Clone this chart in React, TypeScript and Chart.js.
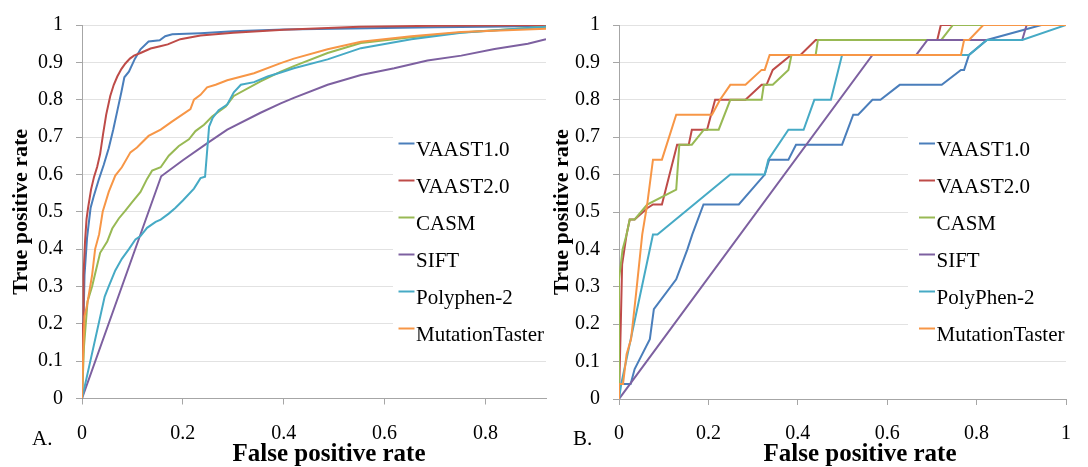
import React, { useEffect, useRef } from "react";
import { Chart, registerables } from "chart.js";

Chart.register(...registerables);

type Pt = [number, number];

const FONT = "'Liberation Serif', 'Times New Roman', Times, serif";

// Series colours: VAAST1.0, VAAST2.0, CASM, SIFT, PolyPhen-2, MutationTaster
const SERIES_COLORS = ["#4A7EBB", "#BE4B48", "#98B954", "#7D60A0", "#46AAC5", "#F79646"];
const LABELS_A = ["VAAST1.0", "VAAST2.0", "CASM", "SIFT", "Polyphen-2", "MutationTaster"];
const LABELS_B = ["VAAST1.0", "VAAST2.0", "CASM", "SIFT", "PolyPhen-2", "MutationTaster"];

const X_TICKS_A = [0, 0.2, 0.4, 0.6, 0.8];
const X_TICKS_B = [0, 0.2, 0.4, 0.6, 0.8, 1];
const Y_TICKS = [0, 0.1, 0.2, 0.3, 0.4, 0.5, 0.6, 0.7, 0.8, 0.9, 1];
const X_MAX_A = 0.92;
const X_MAX_B = 1;

// Panel A ROC curves: [false positive rate, true positive rate]
const A_VAAST1: Pt[] = [
  [0, 0], [0.002, 0.15], [0.005, 0.33], [0.01, 0.43], [0.017, 0.51], [0.023, 0.54],
  [0.033, 0.585], [0.043, 0.625], [0.053, 0.67], [0.062, 0.72], [0.07, 0.77], [0.078, 0.82],
  [0.084, 0.86], [0.093, 0.875], [0.105, 0.91], [0.116, 0.935], [0.132, 0.956], [0.154, 0.959],
  [0.165, 0.97], [0.179, 0.975], [0.235, 0.978], [0.3, 0.983], [0.4, 0.988], [0.5, 0.99],
  [0.6, 0.992], [0.7, 0.994], [0.8, 0.995], [0.92, 0.997],
];
const A_VAAST2: Pt[] = [
  [0, 0], [0.002, 0.2], [0.003, 0.33], [0.006, 0.42], [0.009, 0.48], [0.012, 0.51],
  [0.018, 0.56], [0.024, 0.594], [0.03, 0.62], [0.036, 0.655], [0.042, 0.71], [0.048, 0.76],
  [0.056, 0.81], [0.063, 0.84], [0.07, 0.862], [0.078, 0.882], [0.086, 0.897], [0.095, 0.91],
  [0.103, 0.918], [0.116, 0.925], [0.136, 0.937], [0.155, 0.943], [0.17, 0.948], [0.195, 0.962],
  [0.235, 0.972], [0.3, 0.979], [0.4, 0.987], [0.55, 0.995], [0.7, 0.998], [0.92, 1.0],
];
const A_CASM: Pt[] = [
  [0, 0], [0.004, 0.14], [0.011, 0.26], [0.02, 0.3], [0.026, 0.334], [0.036, 0.39],
  [0.05, 0.42], [0.06, 0.455], [0.073, 0.482], [0.086, 0.503], [0.099, 0.525], [0.116, 0.553],
  [0.129, 0.588], [0.139, 0.61], [0.156, 0.619], [0.172, 0.65], [0.192, 0.676], [0.212, 0.694],
  [0.225, 0.716], [0.242, 0.733], [0.258, 0.755], [0.285, 0.782], [0.301, 0.81], [0.354, 0.849],
  [0.394, 0.875], [0.42, 0.89], [0.487, 0.925], [0.553, 0.952], [0.653, 0.967], [0.752, 0.98],
  [0.92, 0.995],
];
const A_SIFT: Pt[] = [
  [0, 0], [0.157, 0.595], [0.2, 0.638], [0.25, 0.685], [0.288, 0.72], [0.354, 0.765],
  [0.394, 0.79], [0.42, 0.805], [0.487, 0.84], [0.553, 0.866], [0.619, 0.884], [0.685, 0.905],
  [0.752, 0.918], [0.818, 0.936], [0.884, 0.95], [0.92, 0.962],
];
const A_POLYPHEN: Pt[] = [
  [0, 0], [0.045, 0.273], [0.053, 0.3], [0.066, 0.343], [0.079, 0.374], [0.093, 0.4],
  [0.106, 0.426], [0.116, 0.435], [0.129, 0.457], [0.146, 0.473], [0.156, 0.479], [0.172, 0.495],
  [0.185, 0.51], [0.2, 0.53], [0.222, 0.562], [0.235, 0.59], [0.244, 0.594], [0.252, 0.728],
  [0.259, 0.751], [0.271, 0.772], [0.288, 0.787], [0.301, 0.82], [0.315, 0.84], [0.341, 0.847],
  [0.368, 0.862], [0.394, 0.873], [0.42, 0.884], [0.487, 0.908], [0.553, 0.938], [0.653, 0.962],
  [0.752, 0.979], [0.92, 0.995],
];
const A_MUTTASTER: Pt[] = [
  [0, 0], [0.003, 0.15], [0.005, 0.22], [0.01, 0.25], [0.02, 0.33], [0.026, 0.4],
  [0.034, 0.44], [0.041, 0.5], [0.053, 0.553], [0.066, 0.597], [0.079, 0.619], [0.096, 0.659],
  [0.109, 0.672], [0.132, 0.703], [0.156, 0.72], [0.179, 0.742], [0.215, 0.775], [0.222, 0.8],
  [0.235, 0.813], [0.248, 0.833], [0.265, 0.84], [0.288, 0.852], [0.341, 0.871], [0.394, 0.898],
  [0.42, 0.91], [0.487, 0.935], [0.553, 0.955], [0.653, 0.97], [0.752, 0.981], [0.92, 0.99],
];

// Panel B ROC curves (25 positives, so true positive rate moves in steps of 0.04)
const B_VAAST1: Pt[] = [
  [0, 0], [0, 0.04], [0.026, 0.04], [0.035, 0.08], [0.069, 0.16], [0.078, 0.24],
  [0.128, 0.32], [0.153, 0.4], [0.164, 0.44], [0.189, 0.52], [0.268, 0.52], [0.326, 0.6],
  [0.336, 0.64], [0.379, 0.64], [0.396, 0.68], [0.499, 0.68], [0.524, 0.76], [0.535, 0.76],
  [0.567, 0.8], [0.585, 0.8], [0.628, 0.84], [0.722, 0.84], [0.765, 0.88], [0.772, 0.88],
  [0.783, 0.92], [0.823, 0.96], [0.945, 1], [1, 1],
];
const B_VAAST2: Pt[] = [
  [0, 0], [0.004, 0.2], [0.007, 0.36], [0.017, 0.44], [0.024, 0.48], [0.035, 0.48],
  [0.063, 0.51], [0.076, 0.52], [0.096, 0.52], [0.13, 0.68], [0.156, 0.68], [0.163, 0.72],
  [0.197, 0.72], [0.215, 0.8], [0.283, 0.8], [0.319, 0.84], [0.33, 0.84], [0.344, 0.88],
  [0.385, 0.92], [0.406, 0.92], [0.44, 0.96], [0.712, 0.96], [0.72, 1], [1, 1],
];
const B_CASM: Pt[] = [
  [0, 0], [0, 0.32], [0.008, 0.4], [0.017, 0.44], [0.024, 0.48], [0.035, 0.48],
  [0.063, 0.52], [0.128, 0.56], [0.135, 0.68], [0.163, 0.68], [0.19, 0.72], [0.223, 0.72],
  [0.249, 0.8], [0.319, 0.8], [0.324, 0.84], [0.344, 0.84], [0.379, 0.88], [0.386, 0.92],
  [0.44, 0.92], [0.445, 0.96], [0.721, 0.96], [0.747, 1], [1, 1],
];
const B_SIFT: Pt[] = [
  [0, 0], [0.567, 0.92], [0.665, 0.92], [0.69, 0.96], [0.902, 0.96], [0.912, 1], [1, 1],
];
const B_POLYPHEN: Pt[] = [
  [0, 0], [0.005, 0.04], [0.076, 0.44], [0.086, 0.44], [0.249, 0.6], [0.326, 0.6],
  [0.334, 0.64], [0.379, 0.72], [0.413, 0.72], [0.437, 0.8], [0.474, 0.8], [0.499, 0.92],
  [0.783, 0.92], [0.823, 0.96], [0.902, 0.96], [1, 1],
];
const B_MUTTASTER: Pt[] = [
  [0, 0], [0, 0.04], [0.009, 0.04], [0.017, 0.12], [0.027, 0.16], [0.038, 0.28],
  [0.052, 0.44], [0.063, 0.52], [0.076, 0.64], [0.096, 0.64], [0.128, 0.76], [0.208, 0.76],
  [0.226, 0.8], [0.249, 0.84], [0.283, 0.84], [0.319, 0.88], [0.326, 0.88], [0.337, 0.92],
  [0.765, 0.92], [0.772, 0.96], [0.783, 0.96], [0.815, 1], [1, 1],
];

const SERIES_A = [A_VAAST1, A_VAAST2, A_CASM, A_SIFT, A_POLYPHEN, A_MUTTASTER];
const SERIES_B = [B_VAAST1, B_VAAST2, B_CASM, B_SIFT, B_POLYPHEN, B_MUTTASTER];

interface PanelSpec {
  letter: string;
  labels: string[];
  series: Pt[][];
  xTicks: number[];
  xMax: number;
  width: number;
  left: number;
  yWidth: number;
  padTop: number;
  padRight: number;
  xHeight: number;
  legendBoxLeft: number;
  legendBoxWidth: number;
  legendLineLeft: number;
  xTitleShift: number;
}

const PANEL_A: PanelSpec = {
  letter: "A.", labels: LABELS_A, series: SERIES_A, xTicks: X_TICKS_A, xMax: X_MAX_A,
  width: 548, left: 0, yWidth: 82, padTop: 18, padRight: 2, xHeight: 68.5,
  legendBoxLeft: 311, legendBoxWidth: 240, legendLineLeft: 316.5, xTitleShift: 15,
};
const PANEL_B: PanelSpec = {
  letter: "B.", labels: LABELS_B, series: SERIES_B, xTicks: X_TICKS_B, xMax: X_MAX_B,
  width: 547, left: 541, yWidth: 78, padTop: 20, padRight: 6, xHeight: 68,
  legendBoxLeft: 289, legendBoxWidth: 165, legendLineLeft: 300, xTitleShift: 17.5,
};

const HEIGHT = 467;

// Draws the in-plot legend, the panel letter and the x-axis caption.
const rocDecor = {
  id: "rocDecor",
  beforeDatasetsDraw(chart: any, _args: any, opts: any) {
    const { ctx, chartArea } = chart;
    ctx.save();
    ctx.fillStyle = "#ffffff";
    ctx.fillRect(chartArea.left + opts.boxLeft, chartArea.top + 99, opts.boxWidth, 228);
    ctx.font = `21px ${FONT}`;
    ctx.textBaseline = "alphabetic";
    ctx.textAlign = "left";
    chart.data.datasets.forEach((ds: any, i: number) => {
      const base = chartArea.top + 130.5 + i * 37;
      const x = chartArea.left + opts.lineLeft;
      ctx.strokeStyle = ds.borderColor;
      ctx.lineWidth = 2;
      ctx.beginPath();
      ctx.moveTo(x, base - 12);
      ctx.lineTo(x + 16, base - 12);
      ctx.stroke();
      ctx.fillStyle = "#000";
      ctx.fillText(ds.label, x + 17.5, base);
    });
    ctx.restore();
  },
  afterDraw(chart: any, _args: any, opts: any) {
    const { ctx, chartArea } = chart;
    ctx.save();
    ctx.fillStyle = "#000";
    ctx.textBaseline = "alphabetic";
    ctx.textAlign = "left";
    ctx.font = `21px ${FONT}`;
    ctx.fillText(opts.letter, 32, 445);
    ctx.textAlign = "center";
    ctx.font = `bold 25px ${FONT}`;
    ctx.fillText("False positive rate", (chartArea.left + chartArea.right) / 2 + opts.titleShift, 461);
    ctx.restore();
  },
};

function buildConfig(p: PanelSpec): any {
  const axisGray = "#a6a6a6";
  return {
    type: "line",
    data: {
      datasets: p.series.map((pts, i) => ({
        label: p.labels[i],
        data: pts.map(([x, y]) => ({ x, y })),
        borderColor: SERIES_COLORS[i],
        backgroundColor: SERIES_COLORS[i],
        borderWidth: 2,
        pointRadius: 0,
        tension: 0,
        fill: false,
        order: p.series.length - i,
      })),
    },
    options: {
      responsive: false,
      animation: false,
      events: [],
      layout: { padding: { top: p.padTop, right: p.padRight, left: 0, bottom: 0 } },
      scales: {
        x: {
          type: "linear",
          min: 0,
          max: p.xMax,
          afterBuildTicks: (s: any) => {
            s.ticks = p.xTicks.map((v) => ({ value: v }));
          },
          afterFit: (s: any) => {
            s.height = p.xHeight;
          },
          grid: { drawOnChartArea: false, drawTicks: true, tickLength: 6, color: axisGray, tickColor: axisGray },
          border: { color: axisGray, width: 1 },
          ticks: {
            font: { family: FONT, size: 20 },
            color: "#000",
            padding: 17,
            maxRotation: 0,
            autoSkip: false,
            callback: (v: any) => String(v),
          },
        },
        y: {
          type: "linear",
          min: 0,
          max: 1,
          afterBuildTicks: (s: any) => {
            s.ticks = Y_TICKS.map((v) => ({ value: v }));
          },
          afterFit: (s: any) => {
            s.width = p.yWidth;
          },
          grid: { color: "#e2e2e2", tickColor: axisGray, tickLength: 6, drawTicks: true },
          border: { color: axisGray, width: 1 },
          ticks: {
            font: { family: FONT, size: 20 },
            color: "#000",
            padding: 13,
            autoSkip: false,
            callback: (v: any) => String(v),
          },
          title: {
            display: true,
            text: "True positive rate",
            color: "#000",
            font: { family: FONT, size: 22, weight: "bold" },
            padding: { top: 8, bottom: 0 },
          },
        },
      },
      plugins: {
        legend: { display: false },
        tooltip: { enabled: false },
        rocDecor: {
          boxLeft: p.legendBoxLeft,
          boxWidth: p.legendBoxWidth,
          lineLeft: p.legendLineLeft,
          letter: p.letter,
          titleShift: p.xTitleShift,
        },
      },
    },
    plugins: [rocDecor],
  };
}

function RocPanel({ spec }: { spec: PanelSpec }) {
  const ref = useRef<HTMLCanvasElement | null>(null);
  useEffect(() => {
    if (!ref.current) return;
    const chart = new Chart(ref.current, buildConfig(spec));
    return () => chart.destroy();
  }, [spec]);
  return (
    <div style={{ position: "absolute", left: spec.left, top: 0, width: spec.width, height: HEIGHT }}>
      <canvas ref={ref} width={spec.width} height={HEIGHT} style={{ width: spec.width, height: HEIGHT, display: "block" }} />
    </div>
  );
}

export default function App() {
  return (
    <div style={{ position: "fixed", left: 0, top: 0, width: 1088, height: HEIGHT, background: "#ffffff" }}>
      <RocPanel spec={PANEL_A} />
      <RocPanel spec={PANEL_B} />
    </div>
  );
}
